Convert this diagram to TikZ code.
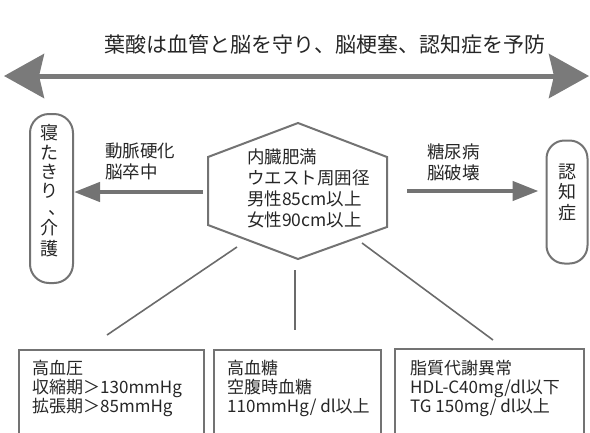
\documentclass[tikz,border=0pt]{standalone}
\usepackage{fontspec}
\setmainfont{Noto Sans CJK JP}
\usetikzlibrary{arrows.meta}
\begin{document}
\begin{tikzpicture}[x=1pt,y=-1pt,
  gline/.style={draw=black!55, line width=2pt},
  thinline/.style={draw=black!58, line width=1.6pt},
  fatarrow/.style={draw=black!55, line width=4.5pt, -{Triangle[length=26pt,width=19pt]}},
  bigarrow/.style={draw=black!52, line width=5pt, {Stealth[length=40pt,width=44pt,inset=5pt]}-{Stealth[length=40pt,width=44pt,inset=5pt]}},
  txt/.style={text=black!85, inner sep=0pt, align=left, font=\fontsize{17}{19}\selectfont},
  mtxt/.style={text=black!85, inner sep=0pt, align=left, font=\fontsize{17.5}{21}\selectfont},
  ch/.style={text=black!85, inner sep=0pt, font=\fontsize{18}{20}\selectfont},
  rbox/.style={gline, rounded corners=19pt, inner sep=0pt},
  sbox/.style={gline, inner sep=0pt, anchor=north west}]
\useasboundingbox (0,0) rectangle (590,432);
\clip (0,0) rectangle (590,432);

% title and double arrow
\node[text=black!85, inner sep=0pt, font=\fontsize{21}{24}\selectfont, anchor=base] (title) at (325,52) {葉酸は血管と脳を守り、脳梗塞、認知症を予防};
\coordinate (tl) at (4,76);
\coordinate (tr) at (589,76);
\draw[bigarrow] (tl) -- (tr);

% side rounded boxes
\node[rbox, minimum width=43pt, minimum height=169pt] (lbox) at (51.5,198.5) {};
\node[ch] (l1) at (50,133) {寝};
\node[ch] (l2) at (50,153) {た};
\node[ch] (l3) at (50,172) {き};
\node[ch] (l4) at (50,191) {り};
\node[ch, anchor=base west, text height=4pt, text depth=0pt, text width=8pt] (l5) at (48,214) {、};
\node[ch] (l6) at (50,228) {介};
\node[ch] (l7) at (50,249) {護};
\node[rbox, minimum width=41pt, minimum height=123pt, rounded corners=18pt] (rboxn) at (567,202) {};
\node[ch] (r1) at (567,172) {認};
\node[ch] (r2) at (567,192) {知};
\node[ch] (r3) at (567,213) {症};

% hexagon
\coordinate (h1) at (208,157);
\coordinate (h2) at (298,123);
\coordinate (h3) at (387,157);
\coordinate (h4) at (387,227);
\coordinate (h5) at (298,259);
\coordinate (h6) at (208,225);
\draw[gline, line join=miter] (h1) -- (h2) -- (h3) -- (h4) -- (h5) -- (h6) -- cycle;
\node[mtxt, anchor=base west] (hex) at (247,226) {内臓肥満\\ウエスト周囲径\\男性85cm以上\\女性90cm以上};

% side arrows
\coordinate (la) at (203,192);
\draw[fatarrow] (la) -- (lbox.east |- la);
\node[mtxt, anchor=base west] (llab) at (105,178) {動脈硬化\\脳卒中};
\coordinate (ra) at (407,191);
\draw[fatarrow] (ra) -- ([xshift=-7pt]rboxn.west |- ra);
\node[mtxt, anchor=base west] (rlab) at (427,179) {糖尿病\\脳破壊};

% bottom boxes
\node[sbox, minimum width=185pt, minimum height=110pt] (b1) at (18,349) {};
\node[sbox, minimum width=167pt, minimum height=110pt] (b2) at (213,349) {};
\node[sbox, minimum width=189pt, minimum height=110pt] (b3) at (394,348) {};
\node[txt, anchor=base west] (t1) at (32,412) {高血圧\\収縮期＞130mmHg\\拡張期＞85mmHg};
\node[txt, anchor=base west] (t2) at (227,412) {高血糖\\空腹時血糖\\110mmHg/ dl以上};
\node[txt, anchor=base west] (t3) at (410,412) {脂質代謝異常\\HDL-C40mg/dl以下\\TG 150mg/ dl以上};

% connectors hexagon -> boxes
\coordinate (c1a) at (237,247);
\coordinate (c1b) at (107,335);
\coordinate (c2a) at (295,270);
\coordinate (c2b) at (295,330);
\coordinate (c3a) at (362,243);
\coordinate (c3b) at (493,340);
\draw[thinline] (c1a) -- (c1b);
\draw[thinline] (c2a) -- (c2b);
\draw[thinline] (c3a) -- (c3b);
\end{tikzpicture}
\end{document}
